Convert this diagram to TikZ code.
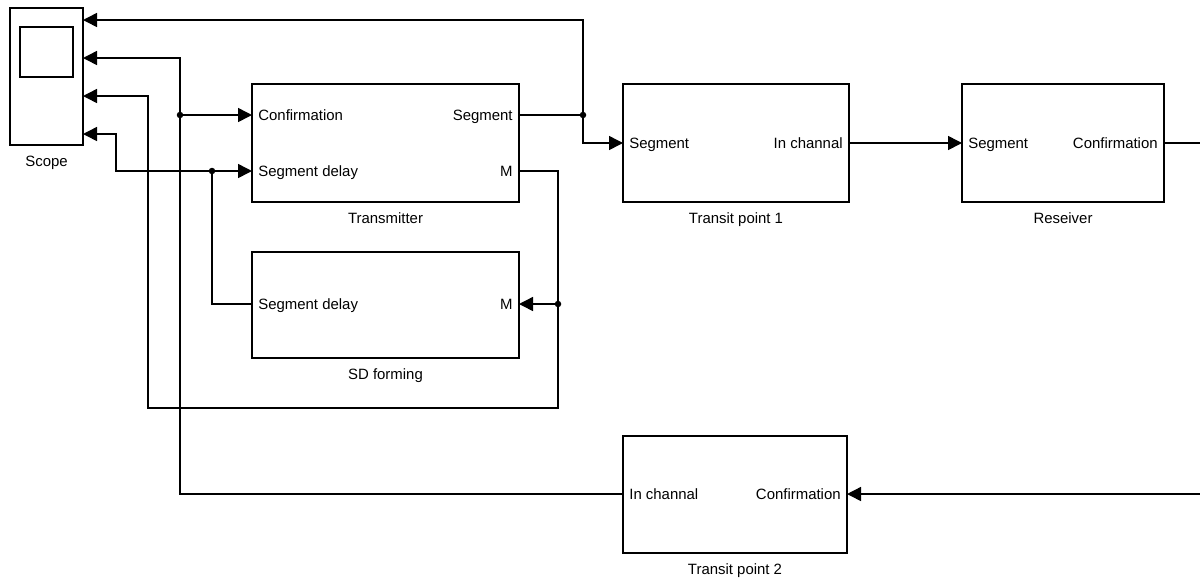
\documentclass[tikz,border=0pt]{standalone}
\usepackage{fontspec}
\setmainfont{Liberation Sans}
\usetikzlibrary{arrows.meta,positioning}

\begin{document}
\begin{tikzpicture}[x=0.2mm,y=-0.2mm,
        block/.style={draw,line width=0.3mm,inner sep=0pt},
        port/.style={font=\fontsize{8.5}{10}\selectfont,inner sep=1.2mm,text height=7pt,text depth=1pt},
        lbl/.style={font=\fontsize{8.5}{10}\selectfont,inner sep=0pt},
        wire/.style={line width=0.3mm},
        sig/.style={wire,-{Triangle[length=2.8mm,width=2.8mm]}},
        dot/.style={circle,fill,inner sep=0pt,minimum size=1.3mm}]
        \useasboundingbox (0,0) rectangle (1200,579);
        \clip (0,0) rectangle (1200,579);

        % blocks
        \node[block,minimum width=14.6mm,minimum height=27.4mm] at (46.5,76.5) (scope) {};
        \node[block,minimum width=10.6mm,minimum height=10mm] at (46.5,52) (screen) {};
        \node[block,minimum width=53.4mm,minimum height=23.6mm] at (385.5,143) (tx) {};
        \node[block,minimum width=53.4mm,minimum height=21.2mm] at (385.5,305) (sdf) {};
        \node[block,minimum width=45.2mm,minimum height=23.6mm] at (736,143) (tp1) {};
        \node[block,minimum width=40.4mm,minimum height=23.6mm] at (1063,143) (rx) {};
        \node[block,minimum width=44.8mm,minimum height=23.4mm] at (735,494.5) (tp2) {};

        \node[lbl,below=2mm of scope] {Scope};
        \node[lbl,below=2mm of tx] {Transmitter};
        \node[lbl,below=2mm of sdf] {SD forming};
        \node[lbl,below=2mm of tp1] {Transit point 1};
        \node[lbl,below=2mm of rx] {Reseiver};
        \node[lbl,below=2mm of tp2] {Transit point 2};

        % ports
        \coordinate (sc-1) at (83,20);
        \coordinate (sc-2) at (83,58);
        \coordinate (sc-3) at (83,96);
        \coordinate (sc-4) at (83,134);
        \coordinate (tx-conf) at (252,115);
        \coordinate (tx-sdl) at (252,171);
        \coordinate (tx-seg) at (519,115);
        \coordinate (tx-m) at (519,171);
        \coordinate (sdf-sdl) at (252,304);
        \coordinate (sdf-m) at (519,304);
        \coordinate (tp1-seg) at (623,143);
        \coordinate (tp1-ch) at (849,143);
        \coordinate (rx-seg) at (962,143);
        \coordinate (rx-conf) at (1164,143);
        \coordinate (tp2-ch) at (623,494);
        \coordinate (tp2-conf) at (847,494);

        \node[port,right] at (tx-conf) {Confirmation};
        \node[port,right] at (tx-sdl) {Segment delay};
        \node[port,left] at (tx-seg) {Segment};
        \node[port,left] at (tx-m) {M};
        \node[port,right] at (sdf-sdl) {Segment delay};
        \node[port,left] at (sdf-m) {M};
        \node[port,right] at (tp1-seg) {Segment};
        \node[port,left] at (tp1-ch) {In channal};
        \node[port,right] at (rx-seg) {Segment};
        \node[port,left] at (rx-conf) {Confirmation};
        \node[port,right] at (tp2-ch) {In channal};
        \node[port,left] at (tp2-conf) {Confirmation};

        % branch points and bends
        \node[dot] at (180,115) (j1) {};
        \node[dot] at (212,171) (j2) {};
        \node[dot] at (583,115) (j3) {};
        \node[dot] at (558,304) (j4) {};
        \coordinate (b1) at (148,408);
        \coordinate (b2) at (116,171);
        \coordinate (b3) at (1215,143);

        % wires
        \draw[wire] (tx-seg) -- (j3.center);
        \draw[sig] (j3.center) |- (sc-1);
        \draw[sig] (j3.center) |- (tp1-seg);
        \draw[sig] (tp2-ch) -| (j1.center) |- (sc-2);
        \draw[sig] (j1.center) -- (tx-conf);
        \draw[wire] (tx-m) -| (j4.center);
        \draw[sig] (j4.center) -- (sdf-m);
        \draw[sig] (j4.center) |- (b1) |- (sc-3);
        \draw[wire] (sdf-sdl) -| (j2.center);
        \draw[sig] (j2.center) -- (tx-sdl);
        \draw[sig] (j2.center) -- (b2) |- (sc-4);
        \draw[sig] (tp1-ch) -- (rx-seg);
        \draw[sig] (rx-conf) -- (b3) |- (tp2-conf);
\end{tikzpicture}
\end{document}
